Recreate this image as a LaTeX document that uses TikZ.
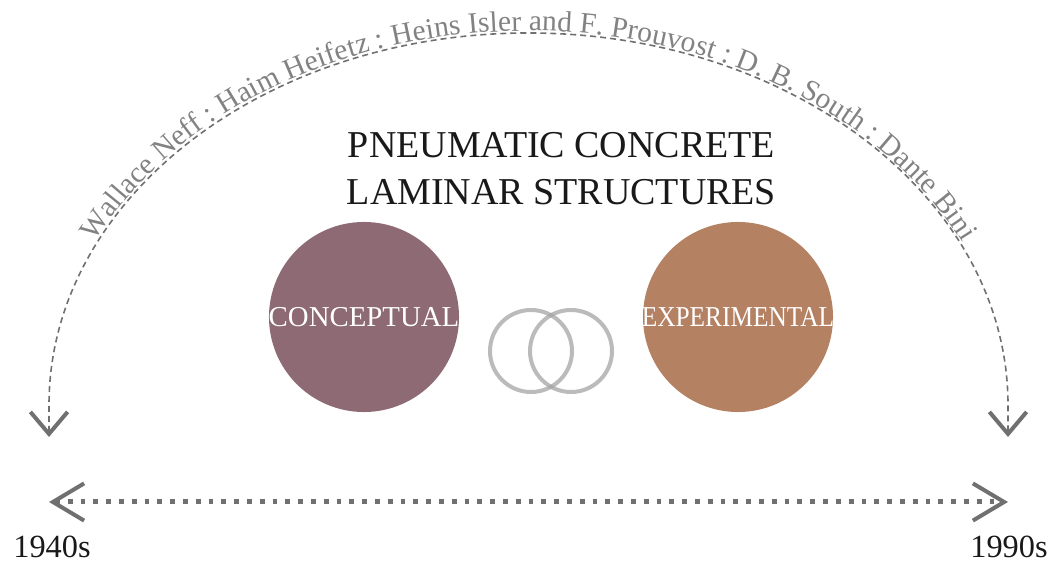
\documentclass[tikz,border=0pt]{standalone}
\usepackage{fontspec}
\setmainfont{Liberation Serif}
\usetikzlibrary{arrows.meta,decorations.text}
\definecolor{conceptcol}{HTML}{8E6A75}
\definecolor{experimcol}{HTML}{B58163}
\definecolor{arrowgray}{HTML}{707070}
\definecolor{namegray}{HTML}{828282}
\definecolor{ringgray}{HTML}{A4A4A4}
\newcommand{\namefont}{\fontsize{21}{21}\selectfont\color{namegray}}
\tikzset{
	timearc/.style={draw=arrowgray, line width=0.04cm, dash pattern=on 0.15cm off 0.1cm,
		{Straight Barb[length=0.55cm,width=0.93cm,line width=0.1cm]}-{Straight Barb[length=0.55cm,width=0.93cm,line width=0.1cm]}},
	timeline/.style={draw=arrowgray, line width=0.125cm, dash pattern=on 0.12cm off 0.2cm,
		{Straight Barb[length=0.78cm,width=0.93cm,line width=0.1cm]}-{Straight Barb[length=0.78cm,width=0.93cm,line width=0.1cm]}},
	disc/.style={circle, inner sep=0pt, minimum size=4.75cm},
	disclabel/.style={text=white, font=\fontsize{20.5}{21}\selectfont, inner sep=0pt},
	ring/.style={draw=ringgray, line width=0.1cm, draw opacity=0.75},
	year/.style={font=\fontsize{23}{23}\selectfont, text=black!90},
	headline/.style={font=\fontsize{27}{33.4}\selectfont, text=black!90, align=center}
}

\begin{document}
\begin{tikzpicture}[x=0.025cm, y=0.025cm]
	%%%%% START %%%%%
	\useasboundingbox (0,0) rectangle (1051,565);
	
	% names along the arc
	\draw[timearc] (49,128) -- (49,160) arc[start angle=180, end angle=0, x radius=479.5, y radius=372] -- (1008,128);
	\path[decorate, decoration={text along path, text align=center, raise=1.5pt,
		text={|\namefont|Wallace Neff : Haim Heifetz : Heins Isler and F. Prouvost : D. B. South : Dante Bini}}]
		(49,160) arc[start angle=180, end angle=0, x radius=479.5, y radius=372];
	
	\node[headline] (title) at (561.5,396) {PNEUMATIC CONCRETE\\LAMINAR STRUCTURES};
	
	\node[disc, fill=conceptcol] (concept) at (364,248) {};
	\node[disclabel] at (concept) {CONCEPTUAL};
	\node[disc, fill=experimcol] (experim) at (738,248) {};
	\node[disclabel] at (experim) {\scalebox{0.88}[1]{EXPERIMENTAL}};
	
	\draw[ring] (531,214) circle (41);
	\draw[ring] (571,214) circle (41);
	
	% time line
	\coordinate (start) at (49,63);
	\coordinate (end) at (1008,63);
	\draw[timeline] (start) -- (end);
	\node[year] (y1940) at (52,18) {1940s};
	\node[year] (y1990) at (1009,18) {1990s};
	
	%%%%% END %%%%%
\end{tikzpicture}
\end{document}
